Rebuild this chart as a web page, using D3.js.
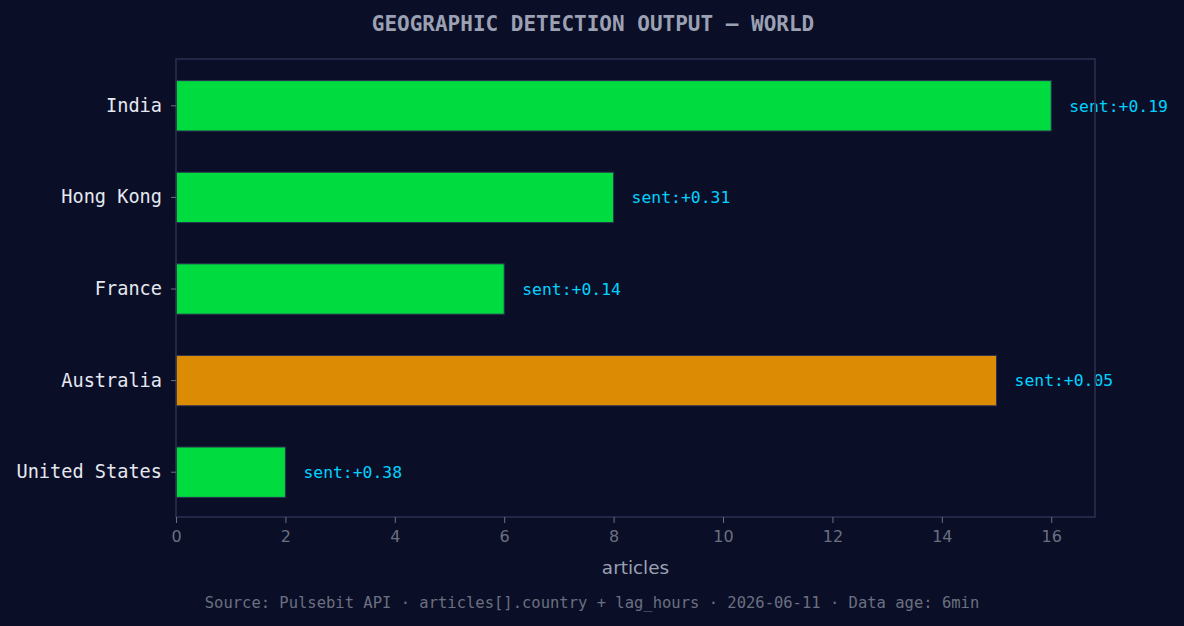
<!DOCTYPE html>
<html lang="en">
<head>
<meta charset="UTF-8">
<title>geographic detection</title>
<script src="https://d3js.org/d3.v7.min.js"></script>
<style>
    body{ margin:0; background:#0a0e27; }
    svg{ display:block; }
</style>
</head>
<body>
<svg id="chart" width="1184" height="626"></svg>
<script>
    // data
    let countries = ["India", "Hong Kong", "France", "Australia", "United States"];
    let articles = [16, 8, 6, 15, 2];
    let sentiment = ["+0.19", "+0.31", "+0.14", "+0.05", "+0.38"];
    let barColors = ["#00db3f", "#00db3f", "#00db3f", "#db8b04", "#00db3f"];
    let xTicks = [0, 2, 4, 6, 8, 10, 12, 14, 16];

    let W = 1184, H = 626;
    let m = {left: 176, right: 1095, top: 59, bottom: 517};
    let mono = "'DejaVu Sans Mono', monospace";
    let sans = "'DejaVu Sans', sans-serif";
    let spine = "#2c3150";

    let svg = d3.select("#chart");
    svg.append("rect").attr("width", W).attr("height", H).attr("fill", "#0a0e27");

    let x = d3.scaleLinear().domain([0, 16.8]).range([m.left, m.right]);
    let y = d3.scaleBand().domain(countries).range([m.top + 1, m.bottom + 1]).paddingInner(0.45).paddingOuter(0.225);

    // bars
    svg.append("g").selectAll("rect")
        .data(countries)
        .join("rect")
        .attr("x", x(0))
        .attr("y", d => y(d))
        .attr("width", (d, i) => x(articles[i]) - x(0))
        .attr("height", y.bandwidth())
        .attr("fill", (d, i) => barColors[i])
        .attr("stroke", "#2c3150")
        .attr("stroke-width", 1);

    // sentiment labels
    svg.append("g").selectAll("text")
        .data(countries)
        .join("text")
        .attr("x", (d, i) => x(articles[i]) + 18)
        .attr("y", d => y(d) + y.bandwidth() / 2)
        .attr("dy", "0.35em")
        .attr("fill", "#00d2ff")
        .style("font-family", mono)
        .style("font-size", "16.4px")
        .text((d, i) => "sent:" + sentiment[i]);

    // frame
    svg.append("rect")
        .attr("x", m.left).attr("y", m.top)
        .attr("width", m.right - m.left).attr("height", m.bottom - m.top)
        .attr("fill", "none").attr("stroke", spine).attr("stroke-width", 1.5);

    // x axis
    let xAxis = svg.append("g")
        .attr("transform", `translate(0,${m.bottom})`)
        .call(d3.axisBottom(x).tickValues(xTicks).tickSize(6).tickPadding(8).tickFormat(d3.format("d")));
    xAxis.select(".domain").remove();
    xAxis.selectAll("line").attr("stroke", "#6b7080");
    xAxis.selectAll("text").attr("fill", "#6b7080").style("font-family", sans).style("font-size", "16px");

    // y axis
    let yAxis = svg.append("g")
        .attr("transform", `translate(${m.left},0)`)
        .call(d3.axisLeft(y).tickSize(5).tickPadding(9));
    yAxis.select(".domain").remove();
    yAxis.selectAll("line").attr("stroke", "#6b7080");
    yAxis.selectAll("text").attr("fill", "#e6e8f0").style("font-family", mono).style("font-size", "18.6px");

    // title
    svg.append("text")
        .attr("x", W / 2 + 1).attr("y", 31)
        .attr("text-anchor", "middle")
        .attr("fill", "#9ba1b3")
        .style("font-family", mono)
        .style("font-size", "21px")
        .style("font-weight", "bold")
        .text("GEOGRAPHIC DETECTION OUTPUT \u2014 WORLD");

    // x label
    svg.append("text")
        .attr("x", (m.left + m.right) / 2).attr("y", 574)
        .attr("text-anchor", "middle")
        .attr("fill", "#9ba1b3")
        .style("font-family", sans)
        .style("font-size", "18.4px")
        .text("articles");

    // footer
    svg.append("text")
        .attr("x", W / 2).attr("y", 608)
        .attr("text-anchor", "middle")
        .attr("fill", "#6b7080")
        .style("font-family", mono)
        .style("font-size", "15.5px")
        .text("Source: Pulsebit API \u00b7 articles[].country + lag_hours \u00b7 2026-06-11 \u00b7 Data age: 6min");
</script>
</body>
</html>
